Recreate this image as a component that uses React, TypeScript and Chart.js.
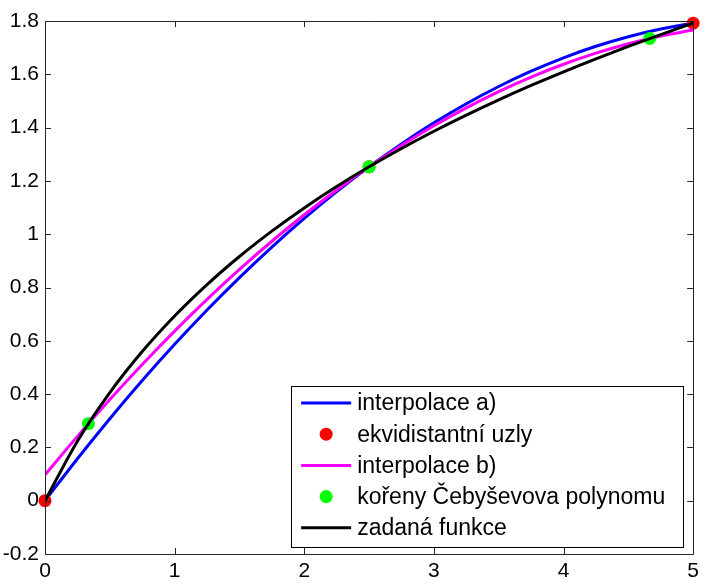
import React, { useEffect, useRef } from "react";
import { Chart, registerables } from "chart.js";

Chart.register(...registerables);

const xs = [0, 0.25, 0.5, 0.75, 1, 1.25, 1.5, 1.75, 2, 2.25, 2.5, 2.75, 3, 3.25, 3.5, 3.75, 4, 4.25, 4.5, 4.75, 5];
const interpA = [0, 0.1574, 0.3077, 0.4508, 0.5868, 0.7156, 0.8373, 0.9519, 1.0593, 1.1596, 1.2528, 1.3388, 1.4177, 1.4895, 1.5541, 1.6115, 1.6619, 1.7051, 1.7411, 1.77, 1.7918];
const interpB = [0.0968, 0.2413, 0.3794, 0.5111, 0.6364, 0.7552, 0.8676, 0.9735, 1.073, 1.1661, 1.2528, 1.333, 1.4069, 1.4742, 1.5352, 1.5897, 1.6378, 1.6794, 1.7147, 1.7435, 1.7659];
const givenFn = [0, 0.2231, 0.4055, 0.5596, 0.6931, 0.8109, 0.9163, 1.0116, 1.0986, 1.1787, 1.2528, 1.3218, 1.3863, 1.4469, 1.5041, 1.5581, 1.6094, 1.6582, 1.7047, 1.7492, 1.7918];
const equiX = [0, 2.5, 5];
const equiY = [0, 1.2528, 1.7918];
const chebX = [0.335, 2.5, 4.665];
const chebY = [0.289, 1.2528, 1.7344];
const xTicks = [0, 1, 2, 3, 4, 5];
const yTicks = [-0.2, 0, 0.2, 0.4, 0.6, 0.8, 1, 1.2, 1.4, 1.6, 1.8];
const legendLabels = ["interpolace a)", "ekvidistantní uzly", "interpolace b)", "kořeny Čebyševova polynomu", "zadaná funkce"];

const FONT = "'Liberation Sans', Arial, sans-serif";
const AXIS = "#262626";

const pts = (x: number[], y: number[]) => x.map((v, i) => ({ x: v, y: y[i] }));

const boxPlugin = {
  id: "matlabBox",
  afterDraw(chart: any) {
    const { ctx, chartArea: a, scales } = chart;
    ctx.save();
    ctx.strokeStyle = AXIS;
    ctx.lineWidth = 1;
    ctx.beginPath();
    ctx.rect(Math.round(a.left) + 0.5, Math.round(a.top) + 0.5, Math.round(a.right - a.left), Math.round(a.bottom - a.top));
    ctx.stroke();
    const tl = 6;
    ctx.beginPath();
    xTicks.forEach((t) => {
      const px = Math.round(scales.x.getPixelForValue(t)) + 0.5;
      ctx.moveTo(px, a.bottom);
      ctx.lineTo(px, a.bottom - tl);
      ctx.moveTo(px, a.top);
      ctx.lineTo(px, a.top + tl);
    });
    yTicks.forEach((t) => {
      const py = Math.round(scales.y.getPixelForValue(t)) + 0.5;
      ctx.moveTo(a.left, py);
      ctx.lineTo(a.left + tl, py);
      ctx.moveTo(a.right, py);
      ctx.lineTo(a.right - tl, py);
    });
    ctx.stroke();

    // legend
    const lx = a.right - 402;
    const ly = a.bottom - 168;
    const lw = 392;
    const lh = 161;
    ctx.fillStyle = "#ffffff";
    ctx.fillRect(lx, ly, lw, lh);
    ctx.strokeStyle = "#000";
    ctx.strokeRect(Math.round(lx) + 0.5, Math.round(ly) + 0.5, lw, lh);
    const order = [0, 1, 2, 3, 4];
    ctx.font = "23px " + FONT;
    ctx.textBaseline = "middle";
    ctx.textAlign = "left";
    order.forEach((dsIdx, i) => {
      const ds = chart.data.datasets[dsIdx];
      const cy = ly + 17 + i * 31.2;
      if (ds.showLine) {
        ctx.strokeStyle = ds.borderColor;
        ctx.lineWidth = 3;
        ctx.beginPath();
        ctx.moveTo(lx + 10, cy);
        ctx.lineTo(lx + 60, cy);
        ctx.stroke();
      } else {
        ctx.fillStyle = ds.pointBackgroundColor;
        ctx.beginPath();
        ctx.arc(lx + 35, cy, 6.5, 0, Math.PI * 2);
        ctx.fill();
      }
      ctx.fillStyle = "#000";
      ctx.fillText(legendLabels[i], lx + 66, cy + 1);
    });
    ctx.restore();
  },
};

export default function App() {
  const ref = useRef<HTMLCanvasElement>(null);
  useEffect(() => {
    if (!ref.current) return;
    const lineDs = (label: string, y: number[], color: string, order: number) => ({
      label,
      data: pts(xs, y),
      showLine: true,
      borderColor: color,
      backgroundColor: color,
      borderWidth: 3,
      pointRadius: 0,
      cubicInterpolationMode: "monotone" as const,
      order,
    });
    const dotDs = (label: string, x: number[], y: number[], color: string, order: number) => ({
      label,
      data: pts(x, y),
      showLine: false,
      pointBackgroundColor: color,
      pointBorderColor: color,
      backgroundColor: color,
      borderColor: color,
      pointRadius: 6.5,
      pointBorderWidth: 0,
      clip: false as const,
      order,
    });
    const chart = new Chart(ref.current, {
      type: "scatter",
      data: {
        datasets: [
          lineDs(legendLabels[0], interpA, "#0000ff", 5),
          dotDs(legendLabels[1], equiX, equiY, "#ff0000", 4),
          lineDs(legendLabels[2], interpB, "#ff00ff", 3),
          dotDs(legendLabels[3], chebX, chebY, "#00ff00", 2),
          lineDs(legendLabels[4], givenFn, "#000000", 1),
        ] as any,
      },
      options: {
        animation: false,
        responsive: false,
        maintainAspectRatio: false,
        layout: { padding: { top: 21, right: 10, left: 0, bottom: 0 } },
        plugins: { legend: { display: false }, tooltip: { enabled: false } },
        scales: {
          x: {
            type: "linear",
            min: 0,
            max: 5,
            afterFit: (s: any) => {
              s.height = 29;
            },
            afterBuildTicks: (s: any) => {
              s.ticks = xTicks.map((v) => ({ value: v }));
            },
            grid: { display: false, drawTicks: false },
            border: { display: false },
            ticks: {
              padding: 5,
              color: "#000",
              font: { family: FONT, size: 21 },
              maxRotation: 0,
              callback: (v: any) => String(v),
            },
          },
          y: {
            type: "linear",
            min: -0.2,
            max: 1.8,
            afterFit: (s: any) => {
              s.width = 45;
            },
            afterBuildTicks: (s: any) => {
              s.ticks = yTicks.map((v) => ({ value: v }));
            },
            grid: { display: false, drawTicks: false },
            border: { display: false },
            ticks: {
              padding: 6,
              color: "#000",
              font: { family: FONT, size: 21 },
              callback: (v: any) => String(Number(Number(v).toFixed(1))),
            },
          },
        },
      },
      plugins: [boxPlugin],
    });
    return () => chart.destroy();
  }, []);
  return (
    <div style={{ position: "fixed", left: 0, top: 0, width: 704, height: 583, background: "#fff" }}>
      <canvas ref={ref} width={704} height={583} style={{ width: 704, height: 583, display: "block" }} />
    </div>
  );
}
